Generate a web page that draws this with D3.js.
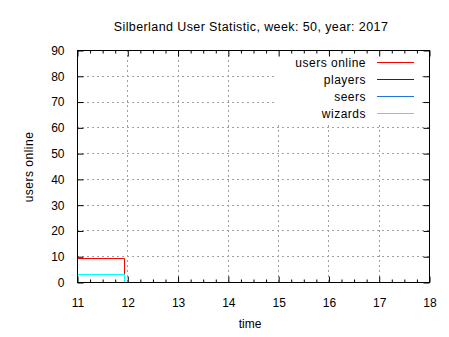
<!DOCTYPE html>
<html><head><meta charset="utf-8">
<script src="https://cdn.jsdelivr.net/npm/d3@7"></script>
<style>
body{margin:0;background:#fff;}
text{font-family:"Liberation Sans",Arial,sans-serif;fill:#000;}
</style></head>
<body>
<svg id="chart" width="449" height="337"></svg>
<script>
const titleText = "Silberland User Statistic, week: 50, year: 2017";
const xTicks = [11, 12, 13, 14, 15, 16, 17, 18];
const yTicks = [0, 10, 20, 30, 40, 50, 60, 70, 80, 90];
const times = [11, 11.94, 11.94];
const usersOnline = [9, 9, 0];
const players = [0, 0, 0];
const seers = [3, 3, 0];
const wizards = [3, 3, 0];
const seriesNames = ["users online", "players", "seers", "wizards"];
const seriesColors = ["#ff0000", "#1a1aa8", "#1e74e0", "#00ffff"];
const seriesValues = [usersOnline, players, seers, wizards];

const svg = d3.select("#chart");
const L = 77, R = 429, T = 50, B = 282;
const x = d3.scaleLinear().domain([11, 18]).range([L, R]);
const y = d3.scaleLinear().domain([0, 90]).range([B, T]);
const px = v => Math.round(v) + 0.5;
const pf = v => Math.floor(v) + 0.5;

svg.append("rect").attr("width", 449).attr("height", 337).attr("fill", "#fff");

// grid
const grid = svg.append("g").attr("stroke", "#a0a0a0").attr("stroke-dasharray", "2,3").attr("stroke-width", 1);
xTicks.slice(1, -1).forEach(t => grid.append("line").attr("x1", px(x(t))).attr("x2", px(x(t))).attr("y1", T).attr("y2", B));
yTicks.slice(1, -1).forEach(t => grid.append("line").attr("y1", px(y(t))).attr("y2", px(y(t))).attr("x1", L).attr("x2", R));

// key area mask
svg.append("rect").attr("x", 274).attr("y", T + 1).attr("width", 147).attr("height", 73).attr("fill", "#fff");

// series
seriesValues.forEach((vals, i) => {
  svg.append("path").datum(times.map((t, j) => [t, vals[j]]))
    .attr("d", d3.line().x(d => px(x(d[0]))).y(d => pf(y(d[1]))))
    .attr("fill", "none").attr("stroke", seriesColors[i]).attr("stroke-width", 1);
});

// axes with inward ticks
const xAxisB = d3.axisBottom(x).tickValues(xTicks).tickSize(-6).tickPadding(16).tickFormat(d3.format("d"));
svg.append("g").attr("transform", `translate(0.5,${B + 0.5})`).call(xAxisB);
svg.append("g").attr("transform", `translate(0.5,${T + 0.5})`).call(d3.axisTop(x).tickValues(xTicks).tickSize(-6).tickFormat(""));
const minor = d3.range(11, 18, 0.25).filter(v => Math.abs(v - Math.round(v)) > 1e-6);
svg.append("g").attr("transform", `translate(0.5,${B + 0.5})`).call(d3.axisBottom(x).tickValues(minor).tickSize(-3).tickFormat(""));
svg.append("g").attr("transform", `translate(0.5,${T + 0.5})`).call(d3.axisTop(x).tickValues(minor).tickSize(-3).tickFormat(""));
svg.append("g").attr("transform", `translate(${L + 0.5},0.5)`).call(d3.axisLeft(y).tickValues(yTicks).tickSize(-6).tickPadding(13).tickFormat(d3.format("d")));
svg.append("g").attr("transform", `translate(${R + 0.5},0.5)`).call(d3.axisRight(y).tickValues(yTicks).tickSize(-6).tickFormat(""));
svg.selectAll(".domain").remove();
svg.selectAll(".tick line").attr("stroke", "#000");
svg.selectAll(".tick text").attr("font-size", 12).attr("font-family", "Liberation Sans, Arial, sans-serif").attr("fill", "#000");

// border
svg.append("rect").attr("x", L + 0.5).attr("y", T + 0.5).attr("width", R - L).attr("height", B - T)
  .attr("fill", "none").attr("stroke", "#000").attr("stroke-width", 1);

// key
seriesNames.forEach((n, i) => {
  const ky = 62 + i * 17;
  svg.append("text").attr("x", 366).attr("y", ky + 5).attr("text-anchor", "end").attr("font-size", 12).attr("letter-spacing", 0.5).text(n);
  svg.append("line").attr("x1", 377).attr("x2", 414).attr("y1", ky + 0.5).attr("y2", ky + 0.5)
    .attr("stroke", seriesColors[i]).attr("stroke-width", 1);
});

// titles
svg.append("text").attr("x", 251).attr("y", 31).attr("text-anchor", "middle").attr("font-size", 12.5).attr("letter-spacing", 0.4).text(titleText);
svg.append("text").attr("x", 250).attr("y", 328).attr("text-anchor", "middle").attr("font-size", 12).text("time");
svg.append("text").attr("transform", "translate(33,167) rotate(-90)").attr("text-anchor", "middle").attr("font-size", 12).attr("letter-spacing", 0.5).text("users online");
</script>
</body></html>
